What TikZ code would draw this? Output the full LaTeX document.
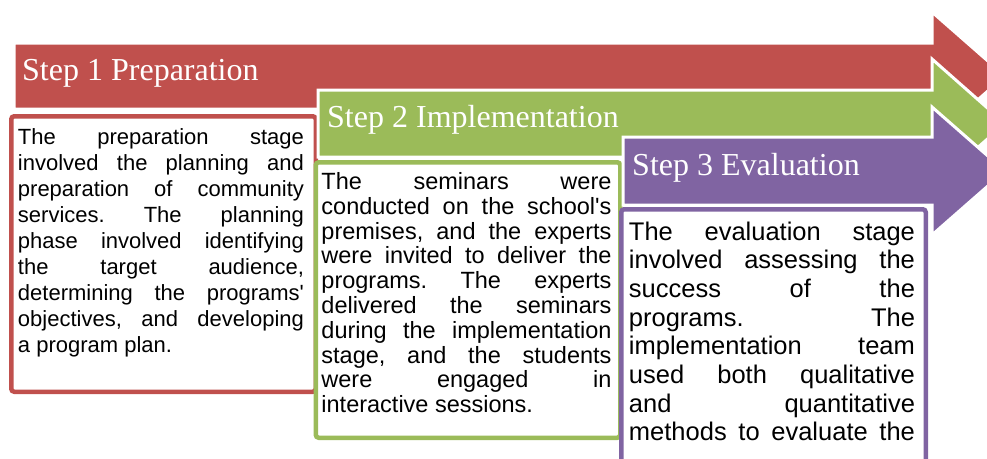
\documentclass[tikz,border=0pt]{standalone}
\usepackage{fontspec}
\usepackage{xcolor}
\usepackage{tikz}
\setmainfont{Liberation Sans}
\newfontfamily\headfont{Liberation Serif}
\usetikzlibrary{positioning,shadows}
\definecolor{stepred}{RGB}{192,80,77}
\definecolor{stepgreen}{RGB}{155,187,89}
\definecolor{steppurple}{RGB}{128,100,162}
\frenchspacing

\tikzset{
  steparrow/.style={fill=#1, draw=white, line width=3pt, line join=miter},
  stepbox/.style={draw=#1, fill=white, line width=4.5pt, rounded corners=3pt,
    minimum width=304.5pt, minimum height=275.5pt, inner sep=0pt,
    drop shadow={shadow xshift=-0.5pt, shadow yshift=-1.5pt, opacity=0.2}},
  steptitle/.style={text=white, anchor=base west, inner sep=0pt,
    font=\headfont\fontsize{32}{36}\selectfont},
  steptext/.style={text width=#1, align=justify, inner sep=0pt}
}

\begin{document}
\begin{tikzpicture}[x=1pt, y=-1pt]
  \useasboundingbox (0,0) rectangle (987,458);
  \clip (0,0) rectangle (987,458);

  % step 1
  \draw[steparrow=stepred] (14,43) -- (932,43) -- (932,12) -- (1005,76)
    -- (932,140) -- (932,109) -- (14,109) -- cycle;
  \node[steptitle] (title1) at (22,80) {Step 1 Preparation};
  \node[stepbox=stepred] (box1) at (163.5,254) {};
  \node[steptext=286pt, below right=30pt and 8.75pt of box1.north west,
        anchor=base west, font=\fontsize{22}{26}\selectfont] (text1) {%
    The preparation stage\linebreak
    involved the planning and\linebreak
    preparation of community\linebreak
    services. The planning\linebreak
    phase involved identifying\linebreak
    the target audience,\linebreak
    determining the programs\textquotesingle\linebreak
    objectives, and developing\linebreak
    a program plan.};

  % step 2
  \draw[steparrow=stepgreen] (318,90) -- (932,90) -- (932,59) -- (1005,123.5)
    -- (932,188) -- (932,157) -- (318,157) -- cycle;
  \node[steptitle] (title2) at (327,127) {Step 2 Implementation};
  \node[stepbox=stepgreen] (box2) at (468,300) {};
  \node[steptext=290pt, below right=29.5pt and 7.75pt of box2.north west,
        anchor=base west, font=\fontsize{23.5}{24.8}\selectfont] (text2) {%
    The seminars were\linebreak
    conducted on the school\textquotesingle s\linebreak
    premises, and the experts\linebreak
    were invited to deliver the\linebreak
    programs. The experts\linebreak
    delivered the seminars\linebreak
    during the implementation\linebreak
    stage, and the students\linebreak
    were engaged in\linebreak
    interactive sessions.};

  % step 3
  \draw[steparrow=steppurple] (623,137) -- (932,137) -- (932,107) -- (1005,171)
    -- (932,235) -- (932,205) -- (623,205) -- cycle;
  \node[steptitle] (title3) at (632,175) {Step 3 Evaluation};
  \node[stepbox=steppurple] (box3) at (773.5,347) {};
  \node[steptext=286pt, below right=33pt and 9.75pt of box3.north west,
        anchor=base west, font=\fontsize{25.5}{28.7}\selectfont] (text3) {%
    The evaluation stage\linebreak
    involved assessing the\linebreak
    success of the\linebreak
    programs. The\linebreak
    implementation team\linebreak
    used both qualitative\linebreak
    and quantitative\linebreak
    methods to evaluate the\linebreak\null};
\end{tikzpicture}
\end{document}
